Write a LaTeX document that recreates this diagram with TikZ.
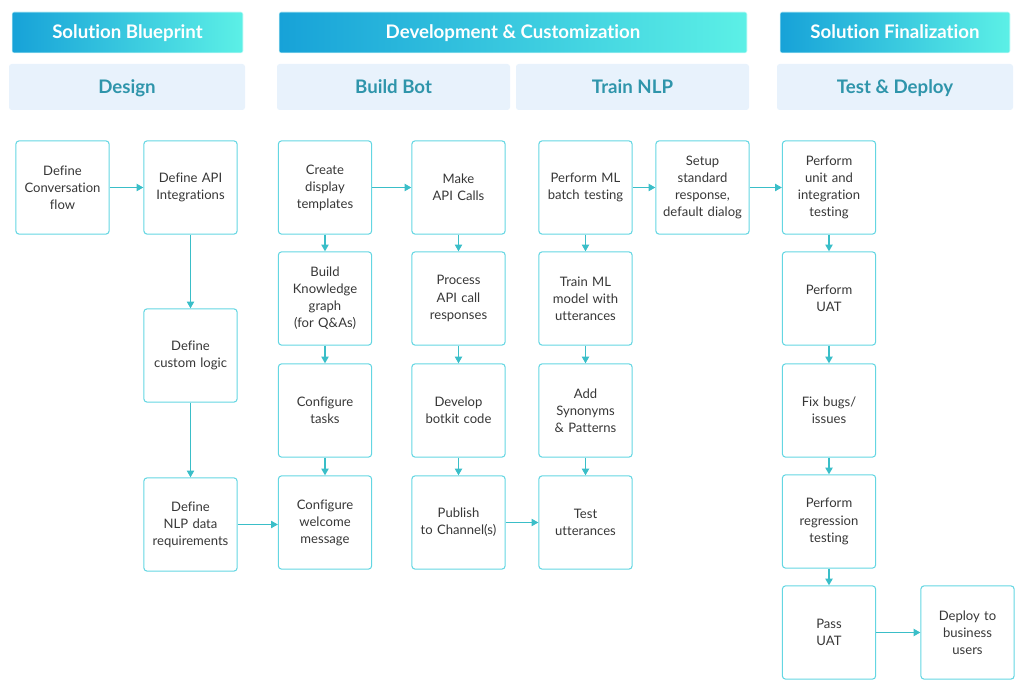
\documentclass[tikz,border=0pt]{standalone}
\usepackage{fontspec}
\setmainfont{Lato}[Ligatures={NoCommon}]
\usepackage{xcolor}
\usepackage{tikz}
\usetikzlibrary{arrows.meta}

\definecolor{hdrleft}{RGB}{23,162,216}
\definecolor{hdrright}{RGB}{92,240,230}
\definecolor{subfill}{RGB}{232,242,252}
\definecolor{subtext}{RGB}{47,149,171}
\definecolor{boxline}{RGB}{100,214,226}
\definecolor{arrcol}{RGB}{58,190,200}
\definecolor{boxtext}{RGB}{55,55,55}

\tikzset{
    hdr/.style={minimum height=30.75pt, rounded corners=1.5pt, left color=hdrleft, right color=hdrright,
        draw=hdrright!15, text=white, text depth=1pt, font=\fontsize{14}{16}\selectfont\bfseries},
    sub/.style={minimum height=34.5pt, rounded corners=2pt, fill=subfill, text depth=1pt,
        text=subtext, font=\fontsize{14}{16}\selectfont\bfseries},
    box/.style={draw=boxline, line width=0.8pt, rounded corners=2.5pt, minimum width=70pt, minimum height=70pt,
        text width=64pt, align=center, inner sep=1pt, text=boxtext, font=\fontsize{9.8}{12.8}\selectfont},
    arr/.style={draw=arrcol, line width=0.8pt, -{Triangle[length=5pt,width=5.5pt]}}
}

\begin{document}
\begin{tikzpicture}[x=0.75pt,y=0.75pt,yscale=-1,xscale=1]
        \useasboundingbox (0,0) rectangle (1024,680);

        % phase headers
        \node[hdr, minimum width=173.25pt] (blueprint) at (127.5,32.5) {Solution Blueprint};
        \node[hdr, minimum width=351pt] (devcust) at (513,32.5) {Development \& Customization};
        \node[hdr, minimum width=172.5pt] (final) at (895,32.5) {Solution Finalization};

        \node[sub, minimum width=177pt] (design) at (127,87) {Design};
        \node[sub, minimum width=174.75pt] (buildbot) at (393.5,87) {Build Bot};
        \node[sub, minimum width=174.75pt] (trainnlp) at (632.5,87) {Train NLP};
        \node[sub, minimum width=177pt] (testdeploy) at (895,87) {Test \& Deploy};

        % design
        \node[box] (convflow) at (62.5,187.5) {Define\\Conversation\\flow};
        \node[box] (apiint) at (190.5,187.5) {Define API\\Integrations};
        \node[box] (custlogic) at (190.5,355.5) {Define\\custom logic};
        \node[box] (nlpreq) at (190.5,524.5) {Define\\NLP data\\requirements};

        % build bot
        \node[box] (templates) at (325,187.5) {Create\\display\\templates};
        \node[box] (kgraph) at (325,298.5) {Build\\Knowledge\\graph\\(for Q\&As)};
        \node[box] (tasks) at (325,410.5) {Configure\\tasks};
        \node[box] (welcome) at (325,522.5) {Configure\\welcome\\message};

        \node[box] (apicalls) at (458.5,187.5) {Make\\API Calls};
        \node[box] (responses) at (458.5,298.5) {Process\\API call\\responses};
        \node[box] (botkit) at (458.5,410.5) {Develop\\botkit code};
        \node[box] (publish) at (458.5,522.5) {Publish\\to Channel(s)};

        % train nlp
        \node[box] (batch) at (585.5,187.5) {Perform ML\\batch testing};
        \node[box] (trainml) at (585.5,298.5) {Train ML\\model with\\utterances};
        \node[box] (synonyms) at (585.5,410.5) {Add\\Synonyms\\\& Patterns};
        \node[box] (testutt) at (585.5,522.5) {Test\\utterances};
        \node[box] (stdresp) at (702.5,187.5) {Setup\\standard\\response,\\default dialog};

        % test and deploy
        \node[box] (unittest) at (829,187.5) {Perform\\unit and\\integration\\testing};
        \node[box] (uat) at (829,298.5) {Perform\\UAT};
        \node[box] (bugs) at (829,410.5) {Fix bugs/\\issues};
        \node[box] (regression) at (829,521.5) {Perform\\regression\\testing};
        \node[box] (passuat) at (829,632.5) {Pass\\UAT};
        \node[box] (deploy) at (967.5,632.5) {Deploy to\\business\\users};

        % connectors
        \draw[arr] (convflow) -- (apiint);
        \draw[arr] (apiint) -- (custlogic);
        \draw[arr] (custlogic) -- (nlpreq);
        \draw[arr] (nlpreq.east) -- (nlpreq.east -| welcome.west);
        \draw[arr] (templates) -- (apicalls);
        \draw[arr] (templates) -- (kgraph);
        \draw[arr] (kgraph) -- (tasks);
        \draw[arr] (tasks) -- (welcome);
        \draw[arr] (apicalls) -- (responses);
        \draw[arr] (responses) -- (botkit);
        \draw[arr] (botkit) -- (publish);
        \draw[arr] (publish) -- (testutt);
        \draw[arr] (batch) -- (trainml);
        \draw[arr] (trainml) -- (synonyms);
        \draw[arr] (synonyms) -- (testutt);
        \draw[arr] (batch) -- (stdresp);
        \draw[arr] (stdresp) -- (unittest);
        \draw[arr] (unittest) -- (uat);
        \draw[arr] (uat) -- (bugs);
        \draw[arr] (bugs) -- (regression);
        \draw[arr] (regression) -- (passuat);
        \draw[arr] (passuat) -- (deploy);
\end{tikzpicture}
\end{document}
